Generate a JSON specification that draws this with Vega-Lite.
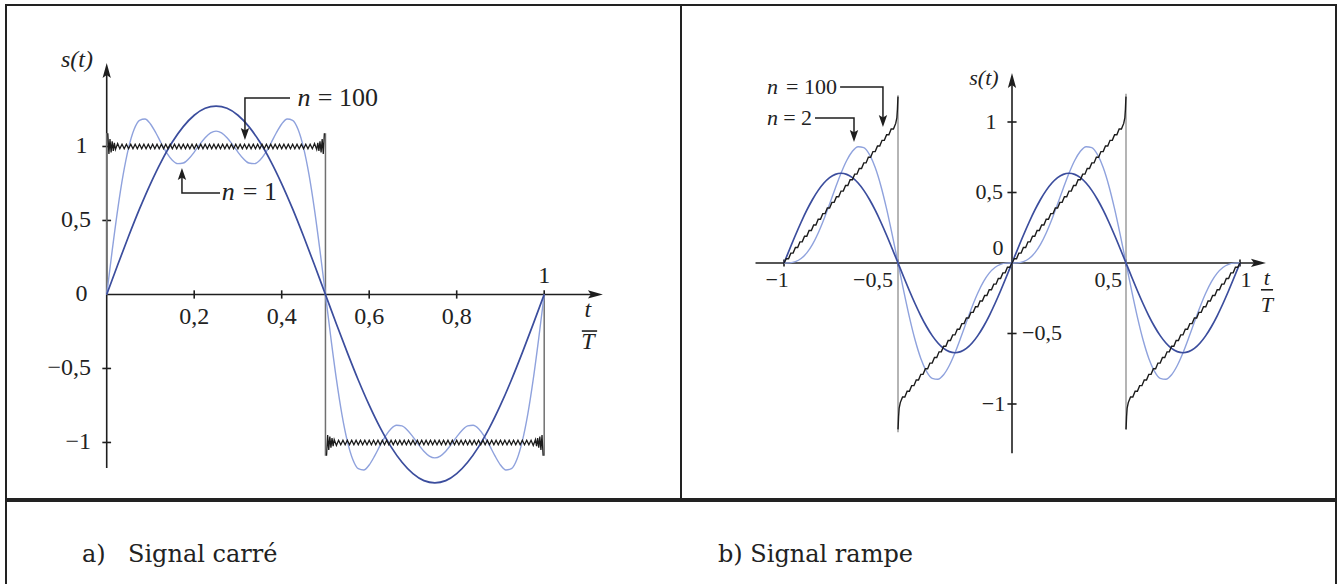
{
  "$schema": "https://vega.github.io/schema/vega-lite/v6.json",
  "background": "white",
  "padding": {"left": 5, "top": 4, "right": 0, "bottom": 0},
  "config": {
    "view": {"stroke": "#222222", "strokeWidth": 2},
    "text": {"font": "Liberation Serif", "color": "#222222"}
  },
  "datasets": {
    "sq1": [
      {"t":0,"s":0},{"t":0.025,"s":0.199},{"t":0.05,"s":0.393},{"t":0.075,"s":0.578},{"t":0.1,"s":0.748},{"t":0.125,"s":0.9},{"t":0.15,"s":1.03},{"t":0.175,"s":1.134},{"t":0.2,"s":1.211},{"t":0.225,"s":1.258},{"t":0.25,"s":1.273},{"t":0.275,"s":1.258},{"t":0.3,"s":1.211},{"t":0.325,"s":1.134},{"t":0.35,"s":1.03},{"t":0.375,"s":0.9},{"t":0.4,"s":0.748},{"t":0.425,"s":0.578},{"t":0.45,"s":0.393},{"t":0.475,"s":0.199},{"t":0.5,"s":0},
      {"t":0.525,"s":-0.199},{"t":0.55,"s":-0.393},{"t":0.575,"s":-0.578},{"t":0.6,"s":-0.748},{"t":0.625,"s":-0.9},{"t":0.65,"s":-1.03},{"t":0.675,"s":-1.134},{"t":0.7,"s":-1.211},{"t":0.725,"s":-1.258},{"t":0.75,"s":-1.273},{"t":0.775,"s":-1.258},{"t":0.8,"s":-1.211},{"t":0.825,"s":-1.134},{"t":0.85,"s":-1.03},{"t":0.875,"s":-0.9},{"t":0.9,"s":-0.748},{"t":0.925,"s":-0.578},{"t":0.95,"s":-0.393},{"t":0.975,"s":-0.199},{"t":1,"s":0}
    ],
    "sq3": [
      {"t":0,"s":0},{"t":0.0125,"s":0.296},{"t":0.025,"s":0.572},{"t":0.0375,"s":0.808},{"t":0.05,"s":0.991},{"t":0.0625,"s":1.115},{"t":0.075,"s":1.177},{"t":0.0875,"s":1.186},{"t":0.1,"s":1.152},{"t":0.1125,"s":1.091},{"t":0.125,"s":1.02},{"t":0.1375,"s":0.955},{"t":0.15,"s":0.907},{"t":0.1625,"s":0.884},{"t":0.175,"s":0.888},{"t":0.1875,"s":0.917},{"t":0.2,"s":0.962},{"t":0.2125,"s":1.013},{"t":0.225,"s":1.059},{"t":0.2375,"s":1.092},{"t":0.25,"s":1.104},
      {"t":0.2625,"s":1.092},{"t":0.275,"s":1.059},{"t":0.2875,"s":1.013},{"t":0.3,"s":0.962},{"t":0.3125,"s":0.917},{"t":0.325,"s":0.888},{"t":0.3375,"s":0.884},{"t":0.35,"s":0.907},{"t":0.3625,"s":0.955},{"t":0.375,"s":1.02},{"t":0.3875,"s":1.091},{"t":0.4,"s":1.152},{"t":0.4125,"s":1.186},{"t":0.425,"s":1.177},{"t":0.4375,"s":1.115},{"t":0.45,"s":0.991},{"t":0.4625,"s":0.808},{"t":0.475,"s":0.572},{"t":0.4875,"s":0.296},{"t":0.5,"s":0},
      {"t":0.5125,"s":-0.296},{"t":0.525,"s":-0.572},{"t":0.5375,"s":-0.808},{"t":0.55,"s":-0.991},{"t":0.5625,"s":-1.115},{"t":0.575,"s":-1.177},{"t":0.5875,"s":-1.186},{"t":0.6,"s":-1.152},{"t":0.6125,"s":-1.091},{"t":0.625,"s":-1.02},{"t":0.6375,"s":-0.955},{"t":0.65,"s":-0.907},{"t":0.6625,"s":-0.884},{"t":0.675,"s":-0.888},{"t":0.6875,"s":-0.917},{"t":0.7,"s":-0.962},{"t":0.7125,"s":-1.013},{"t":0.725,"s":-1.059},{"t":0.7375,"s":-1.092},{"t":0.75,"s":-1.104},
      {"t":0.7625,"s":-1.092},{"t":0.775,"s":-1.059},{"t":0.7875,"s":-1.013},{"t":0.8,"s":-0.962},{"t":0.8125,"s":-0.917},{"t":0.825,"s":-0.888},{"t":0.8375,"s":-0.884},{"t":0.85,"s":-0.907},{"t":0.8625,"s":-0.955},{"t":0.875,"s":-1.02},{"t":0.8875,"s":-1.091},{"t":0.9,"s":-1.152},{"t":0.9125,"s":-1.186},{"t":0.925,"s":-1.177},{"t":0.9375,"s":-1.115},{"t":0.95,"s":-0.991},{"t":0.9625,"s":-0.808},{"t":0.975,"s":-0.572},{"t":0.9875,"s":-0.296},{"t":1,"s":0}
    ],
    "sq100": [
      {"g":"a","t":0.0025,"s":1.09},{"g":"a","t":0.005,"s":0.95},{"g":"a","t":0.0075,"s":1.05},{"g":"a","t":0.01,"s":0.96},{"g":"a","t":0.0125,"s":1.035},{"g":"a","t":0.015,"s":0.97},{"g":"a","t":0.0175,"s":1.025},{"g":"a","t":0.02,"s":0.98},{"g":"a","t":0.025,"s":1.02},
      {"g":"a","t":0.03,"s":0.985},{"g":"a","t":0.035,"s":1.015},{"g":"a","t":0.04,"s":0.985},{"g":"a","t":0.045,"s":1.015},{"g":"a","t":0.05,"s":0.985},{"g":"a","t":0.055,"s":1.015},{"g":"a","t":0.06,"s":0.985},{"g":"a","t":0.065,"s":1.015},{"g":"a","t":0.07,"s":0.985},{"g":"a","t":0.075,"s":1.015},{"g":"a","t":0.08,"s":0.985},{"g":"a","t":0.085,"s":1.015},{"g":"a","t":0.09,"s":0.985},{"g":"a","t":0.095,"s":1.015},{"g":"a","t":0.1,"s":0.985},{"g":"a","t":0.105,"s":1.015},{"g":"a","t":0.11,"s":0.985},{"g":"a","t":0.115,"s":1.015},{"g":"a","t":0.12,"s":0.985},{"g":"a","t":0.125,"s":1.015},{"g":"a","t":0.13,"s":0.985},{"g":"a","t":0.135,"s":1.015},{"g":"a","t":0.14,"s":0.985},{"g":"a","t":0.145,"s":1.015},{"g":"a","t":0.15,"s":0.985},{"g":"a","t":0.155,"s":1.015},{"g":"a","t":0.16,"s":0.985},{"g":"a","t":0.165,"s":1.015},{"g":"a","t":0.17,"s":0.985},{"g":"a","t":0.175,"s":1.015},{"g":"a","t":0.18,"s":0.985},{"g":"a","t":0.185,"s":1.015},{"g":"a","t":0.19,"s":0.985},{"g":"a","t":0.195,"s":1.015},{"g":"a","t":0.2,"s":0.985},{"g":"a","t":0.205,"s":1.015},{"g":"a","t":0.21,"s":0.985},{"g":"a","t":0.215,"s":1.015},{"g":"a","t":0.22,"s":0.985},{"g":"a","t":0.225,"s":1.015},{"g":"a","t":0.23,"s":0.985},{"g":"a","t":0.235,"s":1.015},{"g":"a","t":0.24,"s":0.985},{"g":"a","t":0.245,"s":1.015},{"g":"a","t":0.25,"s":0.985},{"g":"a","t":0.255,"s":1.015},{"g":"a","t":0.26,"s":0.985},{"g":"a","t":0.265,"s":1.015},{"g":"a","t":0.27,"s":0.985},{"g":"a","t":0.275,"s":1.015},{"g":"a","t":0.28,"s":0.985},{"g":"a","t":0.285,"s":1.015},{"g":"a","t":0.29,"s":0.985},{"g":"a","t":0.295,"s":1.015},{"g":"a","t":0.3,"s":0.985},{"g":"a","t":0.305,"s":1.015},{"g":"a","t":0.31,"s":0.985},{"g":"a","t":0.315,"s":1.015},{"g":"a","t":0.32,"s":0.985},{"g":"a","t":0.325,"s":1.015},{"g":"a","t":0.33,"s":0.985},{"g":"a","t":0.335,"s":1.015},{"g":"a","t":0.34,"s":0.985},{"g":"a","t":0.345,"s":1.015},{"g":"a","t":0.35,"s":0.985},{"g":"a","t":0.355,"s":1.015},{"g":"a","t":0.36,"s":0.985},{"g":"a","t":0.365,"s":1.015},{"g":"a","t":0.37,"s":0.985},{"g":"a","t":0.375,"s":1.015},{"g":"a","t":0.38,"s":0.985},{"g":"a","t":0.385,"s":1.015},{"g":"a","t":0.39,"s":0.985},{"g":"a","t":0.395,"s":1.015},{"g":"a","t":0.4,"s":0.985},{"g":"a","t":0.405,"s":1.015},{"g":"a","t":0.41,"s":0.985},{"g":"a","t":0.415,"s":1.015},{"g":"a","t":0.42,"s":0.985},{"g":"a","t":0.425,"s":1.015},{"g":"a","t":0.43,"s":0.985},{"g":"a","t":0.435,"s":1.015},{"g":"a","t":0.44,"s":0.985},{"g":"a","t":0.445,"s":1.015},{"g":"a","t":0.45,"s":0.985},{"g":"a","t":0.455,"s":1.015},{"g":"a","t":0.46,"s":0.985},{"g":"a","t":0.465,"s":1.015},{"g":"a","t":0.47,"s":0.985},
      {"g":"a","t":0.475,"s":1.02},{"g":"a","t":0.48,"s":0.98},{"g":"a","t":0.4825,"s":1.025},{"g":"a","t":0.485,"s":0.97},{"g":"a","t":0.4875,"s":1.035},{"g":"a","t":0.49,"s":0.96},{"g":"a","t":0.4925,"s":1.05},{"g":"a","t":0.495,"s":0.95},{"g":"a","t":0.4975,"s":1.09},
      {"g":"b","t":0.5025,"s":-1.09},{"g":"b","t":0.505,"s":-0.95},{"g":"b","t":0.5075,"s":-1.05},{"g":"b","t":0.51,"s":-0.96},{"g":"b","t":0.5125,"s":-1.035},{"g":"b","t":0.515,"s":-0.97},{"g":"b","t":0.5175,"s":-1.025},{"g":"b","t":0.52,"s":-0.98},{"g":"b","t":0.525,"s":-1.02},
      {"g":"b","t":0.53,"s":-0.985},{"g":"b","t":0.535,"s":-1.015},{"g":"b","t":0.54,"s":-0.985},{"g":"b","t":0.545,"s":-1.015},{"g":"b","t":0.55,"s":-0.985},{"g":"b","t":0.555,"s":-1.015},{"g":"b","t":0.56,"s":-0.985},{"g":"b","t":0.565,"s":-1.015},{"g":"b","t":0.57,"s":-0.985},{"g":"b","t":0.575,"s":-1.015},{"g":"b","t":0.58,"s":-0.985},{"g":"b","t":0.585,"s":-1.015},{"g":"b","t":0.59,"s":-0.985},{"g":"b","t":0.595,"s":-1.015},{"g":"b","t":0.6,"s":-0.985},{"g":"b","t":0.605,"s":-1.015},{"g":"b","t":0.61,"s":-0.985},{"g":"b","t":0.615,"s":-1.015},{"g":"b","t":0.62,"s":-0.985},{"g":"b","t":0.625,"s":-1.015},{"g":"b","t":0.63,"s":-0.985},{"g":"b","t":0.635,"s":-1.015},{"g":"b","t":0.64,"s":-0.985},{"g":"b","t":0.645,"s":-1.015},{"g":"b","t":0.65,"s":-0.985},{"g":"b","t":0.655,"s":-1.015},{"g":"b","t":0.66,"s":-0.985},{"g":"b","t":0.665,"s":-1.015},{"g":"b","t":0.67,"s":-0.985},{"g":"b","t":0.675,"s":-1.015},{"g":"b","t":0.68,"s":-0.985},{"g":"b","t":0.685,"s":-1.015},{"g":"b","t":0.69,"s":-0.985},{"g":"b","t":0.695,"s":-1.015},{"g":"b","t":0.7,"s":-0.985},{"g":"b","t":0.705,"s":-1.015},{"g":"b","t":0.71,"s":-0.985},{"g":"b","t":0.715,"s":-1.015},{"g":"b","t":0.72,"s":-0.985},{"g":"b","t":0.725,"s":-1.015},{"g":"b","t":0.73,"s":-0.985},{"g":"b","t":0.735,"s":-1.015},{"g":"b","t":0.74,"s":-0.985},{"g":"b","t":0.745,"s":-1.015},{"g":"b","t":0.75,"s":-0.985},{"g":"b","t":0.755,"s":-1.015},{"g":"b","t":0.76,"s":-0.985},{"g":"b","t":0.765,"s":-1.015},{"g":"b","t":0.77,"s":-0.985},{"g":"b","t":0.775,"s":-1.015},{"g":"b","t":0.78,"s":-0.985},{"g":"b","t":0.785,"s":-1.015},{"g":"b","t":0.79,"s":-0.985},{"g":"b","t":0.795,"s":-1.015},{"g":"b","t":0.8,"s":-0.985},{"g":"b","t":0.805,"s":-1.015},{"g":"b","t":0.81,"s":-0.985},{"g":"b","t":0.815,"s":-1.015},{"g":"b","t":0.82,"s":-0.985},{"g":"b","t":0.825,"s":-1.015},{"g":"b","t":0.83,"s":-0.985},{"g":"b","t":0.835,"s":-1.015},{"g":"b","t":0.84,"s":-0.985},{"g":"b","t":0.845,"s":-1.015},{"g":"b","t":0.85,"s":-0.985},{"g":"b","t":0.855,"s":-1.015},{"g":"b","t":0.86,"s":-0.985},{"g":"b","t":0.865,"s":-1.015},{"g":"b","t":0.87,"s":-0.985},{"g":"b","t":0.875,"s":-1.015},{"g":"b","t":0.88,"s":-0.985},{"g":"b","t":0.885,"s":-1.015},{"g":"b","t":0.89,"s":-0.985},{"g":"b","t":0.895,"s":-1.015},{"g":"b","t":0.9,"s":-0.985},{"g":"b","t":0.905,"s":-1.015},{"g":"b","t":0.91,"s":-0.985},{"g":"b","t":0.915,"s":-1.015},{"g":"b","t":0.92,"s":-0.985},{"g":"b","t":0.925,"s":-1.015},{"g":"b","t":0.93,"s":-0.985},{"g":"b","t":0.935,"s":-1.015},{"g":"b","t":0.94,"s":-0.985},{"g":"b","t":0.945,"s":-1.015},{"g":"b","t":0.95,"s":-0.985},{"g":"b","t":0.955,"s":-1.015},{"g":"b","t":0.96,"s":-0.985},{"g":"b","t":0.965,"s":-1.015},{"g":"b","t":0.97,"s":-0.985},
      {"g":"b","t":0.975,"s":-1.02},{"g":"b","t":0.98,"s":-0.98},{"g":"b","t":0.9825,"s":-1.025},{"g":"b","t":0.985,"s":-0.97},{"g":"b","t":0.9875,"s":-1.035},{"g":"b","t":0.99,"s":-0.96},{"g":"b","t":0.9925,"s":-1.05},{"g":"b","t":0.995,"s":-0.95},{"g":"b","t":0.9975,"s":-1.09}
    ],
    "sqJumps": [
      {"t":0,"s":0,"s2":1.09},{"t":0.5,"s":1.09,"s2":-1.09},{"t":1,"s":-1.09,"s2":0}
    ],
    "sqAxes": [
      {"t":0,"s":0,"t2":1.12,"s2":0},
      {"t":0,"s":-1.172,"t2":0,"s2":1.52},
      {"t":0.2,"s":-0.028,"t2":0.2,"s2":0.028},{"t":0.4,"s":-0.028,"t2":0.4,"s2":0.028},{"t":0.6,"s":-0.028,"t2":0.6,"s2":0.028},{"t":0.8,"s":-0.028,"t2":0.8,"s2":0.028},{"t":1,"s":-0.028,"t2":1,"s2":0.028},
      {"t":-0.01,"s":1,"t2":0.01,"s2":1},{"t":-0.01,"s":0.5,"t2":0.01,"s2":0.5},{"t":-0.01,"s":-0.5,"t2":0.01,"s2":-0.5},{"t":-0.01,"s":-1,"t2":0.01,"s2":-1},
      {"t":1.086,"s":-0.247,"t2":1.121,"s2":-0.247}
    ],
    "sqLeaders": [
      {"g":"a","o":0,"t":0.419,"s":1.328},{"g":"a","o":1,"t":0.316,"s":1.328},{"g":"a","o":2,"t":0.316,"s":1.1},
      {"g":"b","o":0,"t":0.259,"s":0.686},{"g":"b","o":1,"t":0.172,"s":0.686},{"g":"b","o":2,"t":0.172,"s":0.8}
    ],
    "sqHeads": [
      {"k":"ar","t":1.117,"s":0},{"k":"au","t":0,"s":1.513},{"k":"nd","t":0.316,"s":1.085},{"k":"nu","t":0.172,"s":0.814}
    ],
    "sqText": [
      {"k":"c","t":-0.0576,"s":1,"label":"1"},{"k":"c","t":-0.0576,"s":0,"label":"0"},
      {"k":"c","t":0.2,"s":-0.152,"label":"0,2"},{"k":"c","t":0.4,"s":-0.152,"label":"0,4"},{"k":"c","t":0.6,"s":-0.152,"label":"0,6"},{"k":"c","t":0.8,"s":-0.152,"label":"0,8"},{"k":"c","t":1,"s":0.125,"label":"1"},
      {"k":"r","t":-0.036,"s":0.5,"label":"0,5"},{"k":"r","t":-0.036,"s":-0.5,"label":"−0,5"},{"k":"r","t":-0.036,"s":-1,"label":"−1"},
      {"k":"ra","t":0.62,"s":1.328,"label":"= 100"},{"k":"ra","t":0.389,"s":0.693,"label":"= 1"},
      {"k":"ci","t":-0.068,"s":1.584,"label":"s(t)"},{"k":"ci","t":1.1,"s":-0.105,"label":"t"},{"k":"ci","t":1.1,"s":-0.321,"label":"T"},
      {"k":"li","t":0.436,"s":1.328,"label":"n"},{"k":"li","t":0.263,"s":0.693,"label":"n"}
    ],
    "rp1": [
      {"t":-1,"s":0},{"t":-0.975,"s":0.0996},{"t":-0.95,"s":0.1967},{"t":-0.925,"s":0.289},{"t":-0.9,"s":0.3742},{"t":-0.875,"s":0.4502},{"t":-0.85,"s":0.515},{"t":-0.825,"s":0.5672},{"t":-0.8,"s":0.6055},{"t":-0.775,"s":0.6288},{"t":-0.75,"s":0.6366},{"t":-0.725,"s":0.6288},{"t":-0.7,"s":0.6055},{"t":-0.675,"s":0.5672},{"t":-0.65,"s":0.515},{"t":-0.625,"s":0.4502},{"t":-0.6,"s":0.3742},{"t":-0.575,"s":0.289},{"t":-0.55,"s":0.1967},{"t":-0.525,"s":0.0996},{"t":-0.5,"s":0},
      {"t":-0.475,"s":-0.0996},{"t":-0.45,"s":-0.1967},{"t":-0.425,"s":-0.289},{"t":-0.4,"s":-0.3742},{"t":-0.375,"s":-0.4502},{"t":-0.35,"s":-0.515},{"t":-0.325,"s":-0.5672},{"t":-0.3,"s":-0.6055},{"t":-0.275,"s":-0.6288},{"t":-0.25,"s":-0.6366},{"t":-0.225,"s":-0.6288},{"t":-0.2,"s":-0.6055},{"t":-0.175,"s":-0.5672},{"t":-0.15,"s":-0.515},{"t":-0.125,"s":-0.4502},{"t":-0.1,"s":-0.3742},{"t":-0.075,"s":-0.289},{"t":-0.05,"s":-0.1967},{"t":-0.025,"s":-0.0996},{"t":0,"s":0},
      {"t":0.025,"s":0.0996},{"t":0.05,"s":0.1967},{"t":0.075,"s":0.289},{"t":0.1,"s":0.3742},{"t":0.125,"s":0.4502},{"t":0.15,"s":0.515},{"t":0.175,"s":0.5672},{"t":0.2,"s":0.6055},{"t":0.225,"s":0.6288},{"t":0.25,"s":0.6366},{"t":0.275,"s":0.6288},{"t":0.3,"s":0.6055},{"t":0.325,"s":0.5672},{"t":0.35,"s":0.515},{"t":0.375,"s":0.4502},{"t":0.4,"s":0.3742},{"t":0.425,"s":0.289},{"t":0.45,"s":0.1967},{"t":0.475,"s":0.0996},{"t":0.5,"s":0},
      {"t":0.525,"s":-0.0996},{"t":0.55,"s":-0.1967},{"t":0.575,"s":-0.289},{"t":0.6,"s":-0.3742},{"t":0.625,"s":-0.4502},{"t":0.65,"s":-0.515},{"t":0.675,"s":-0.5672},{"t":0.7,"s":-0.6055},{"t":0.725,"s":-0.6288},{"t":0.75,"s":-0.6366},{"t":0.775,"s":-0.6288},{"t":0.8,"s":-0.6055},{"t":0.825,"s":-0.5672},{"t":0.85,"s":-0.515},{"t":0.875,"s":-0.4502},{"t":0.9,"s":-0.3742},{"t":0.925,"s":-0.289},{"t":0.95,"s":-0.1967},{"t":0.975,"s":-0.0996},{"t":1,"s":0}
    ],
    "rp2": [
      {"t":-1,"s":0},{"t":-0.975,"s":0.0012},{"t":-0.95,"s":0.0096},{"t":-0.925,"s":0.0315},{"t":-0.9,"s":0.0715},{"t":-0.875,"s":0.1318},{"t":-0.85,"s":0.2123},{"t":-0.825,"s":0.3097},{"t":-0.8,"s":0.4184},{"t":-0.775,"s":0.5304},{"t":-0.75,"s":0.6366},{"t":-0.725,"s":0.7271},{"t":-0.7,"s":0.7926},{"t":-0.675,"s":0.8247},{"t":-0.65,"s":0.8177},{"t":-0.625,"s":0.7684},{"t":-0.6,"s":0.6769},{"t":-0.575,"s":0.5465},{"t":-0.55,"s":0.3838},{"t":-0.525,"s":0.1979},{"t":-0.5,"s":0},
      {"t":-0.475,"s":-0.1979},{"t":-0.45,"s":-0.3838},{"t":-0.425,"s":-0.5465},{"t":-0.4,"s":-0.6769},{"t":-0.375,"s":-0.7684},{"t":-0.35,"s":-0.8177},{"t":-0.325,"s":-0.8247},{"t":-0.3,"s":-0.7926},{"t":-0.275,"s":-0.7271},{"t":-0.25,"s":-0.6366},{"t":-0.225,"s":-0.5304},{"t":-0.2,"s":-0.4184},{"t":-0.175,"s":-0.3097},{"t":-0.15,"s":-0.2123},{"t":-0.125,"s":-0.1318},{"t":-0.1,"s":-0.0715},{"t":-0.075,"s":-0.0315},{"t":-0.05,"s":-0.0096},{"t":-0.025,"s":-0.0012},{"t":0,"s":0},
      {"t":0.025,"s":0.0012},{"t":0.05,"s":0.0096},{"t":0.075,"s":0.0315},{"t":0.1,"s":0.0715},{"t":0.125,"s":0.1318},{"t":0.15,"s":0.2123},{"t":0.175,"s":0.3097},{"t":0.2,"s":0.4184},{"t":0.225,"s":0.5304},{"t":0.25,"s":0.6366},{"t":0.275,"s":0.7271},{"t":0.3,"s":0.7926},{"t":0.325,"s":0.8247},{"t":0.35,"s":0.8177},{"t":0.375,"s":0.7684},{"t":0.4,"s":0.6769},{"t":0.425,"s":0.5465},{"t":0.45,"s":0.3838},{"t":0.475,"s":0.1979},{"t":0.5,"s":0},
      {"t":0.525,"s":-0.1979},{"t":0.55,"s":-0.3838},{"t":0.575,"s":-0.5465},{"t":0.6,"s":-0.6769},{"t":0.625,"s":-0.7684},{"t":0.65,"s":-0.8177},{"t":0.675,"s":-0.8247},{"t":0.7,"s":-0.7926},{"t":0.725,"s":-0.7271},{"t":0.75,"s":-0.6366},{"t":0.775,"s":-0.5304},{"t":0.8,"s":-0.4184},{"t":0.825,"s":-0.3097},{"t":0.85,"s":-0.2123},{"t":0.875,"s":-0.1318},{"t":0.9,"s":-0.0715},{"t":0.925,"s":-0.0315},{"t":0.95,"s":-0.0096},{"t":0.975,"s":-0.0012},{"t":1,"s":0}
    ],
    "rp100": [
      {"g":"a","t":-1,"s":0},{"g":"a","t":-0.99,"s":0.03},{"g":"a","t":-0.98,"s":0.03},{"g":"a","t":-0.97,"s":0.07},{"g":"a","t":-0.96,"s":0.07},{"g":"a","t":-0.95,"s":0.11},{"g":"a","t":-0.94,"s":0.11},{"g":"a","t":-0.93,"s":0.15},{"g":"a","t":-0.92,"s":0.15},{"g":"a","t":-0.91,"s":0.19},{"g":"a","t":-0.9,"s":0.19},{"g":"a","t":-0.89,"s":0.23},{"g":"a","t":-0.88,"s":0.23},{"g":"a","t":-0.87,"s":0.27},{"g":"a","t":-0.86,"s":0.27},{"g":"a","t":-0.85,"s":0.31},{"g":"a","t":-0.84,"s":0.31},{"g":"a","t":-0.83,"s":0.35},{"g":"a","t":-0.82,"s":0.35},{"g":"a","t":-0.81,"s":0.39},{"g":"a","t":-0.8,"s":0.39},{"g":"a","t":-0.79,"s":0.43},{"g":"a","t":-0.78,"s":0.43},{"g":"a","t":-0.77,"s":0.47},{"g":"a","t":-0.76,"s":0.47},{"g":"a","t":-0.75,"s":0.51},{"g":"a","t":-0.74,"s":0.51},{"g":"a","t":-0.73,"s":0.55},{"g":"a","t":-0.72,"s":0.55},{"g":"a","t":-0.71,"s":0.59},{"g":"a","t":-0.7,"s":0.59},{"g":"a","t":-0.69,"s":0.63},{"g":"a","t":-0.68,"s":0.63},{"g":"a","t":-0.67,"s":0.67},{"g":"a","t":-0.66,"s":0.67},{"g":"a","t":-0.65,"s":0.71},{"g":"a","t":-0.64,"s":0.71},{"g":"a","t":-0.63,"s":0.75},{"g":"a","t":-0.62,"s":0.75},{"g":"a","t":-0.61,"s":0.79},{"g":"a","t":-0.6,"s":0.79},{"g":"a","t":-0.59,"s":0.83},{"g":"a","t":-0.58,"s":0.83},{"g":"a","t":-0.57,"s":0.87},{"g":"a","t":-0.56,"s":0.87},{"g":"a","t":-0.55,"s":0.91},{"g":"a","t":-0.54,"s":0.91},{"g":"a","t":-0.53,"s":0.95},{"g":"a","t":-0.52,"s":0.95},{"g":"a","t":-0.51,"s":0.99},{"g":"a","t":-0.505,"s":1.03},{"g":"a","t":-0.5025,"s":1.09},{"g":"a","t":-0.501,"s":1.15},{"g":"a","t":-0.5,"s":1.18},
      {"g":"b","t":-0.5,"s":-1.18},{"g":"b","t":-0.499,"s":-1.15},{"g":"b","t":-0.4975,"s":-1.09},{"g":"b","t":-0.495,"s":-1.03},{"g":"b","t":-0.49,"s":-0.99},{"g":"b","t":-0.48,"s":-0.95},{"g":"b","t":-0.47,"s":-0.95},{"g":"b","t":-0.46,"s":-0.91},{"g":"b","t":-0.45,"s":-0.91},{"g":"b","t":-0.44,"s":-0.87},{"g":"b","t":-0.43,"s":-0.87},{"g":"b","t":-0.42,"s":-0.83},{"g":"b","t":-0.41,"s":-0.83},{"g":"b","t":-0.4,"s":-0.79},{"g":"b","t":-0.39,"s":-0.79},{"g":"b","t":-0.38,"s":-0.75},{"g":"b","t":-0.37,"s":-0.75},{"g":"b","t":-0.36,"s":-0.71},{"g":"b","t":-0.35,"s":-0.71},{"g":"b","t":-0.34,"s":-0.67},{"g":"b","t":-0.33,"s":-0.67},{"g":"b","t":-0.32,"s":-0.63},{"g":"b","t":-0.31,"s":-0.63},{"g":"b","t":-0.3,"s":-0.59},{"g":"b","t":-0.29,"s":-0.59},{"g":"b","t":-0.28,"s":-0.55},{"g":"b","t":-0.27,"s":-0.55},{"g":"b","t":-0.26,"s":-0.51},{"g":"b","t":-0.25,"s":-0.51},{"g":"b","t":-0.24,"s":-0.47},{"g":"b","t":-0.23,"s":-0.47},{"g":"b","t":-0.22,"s":-0.43},{"g":"b","t":-0.21,"s":-0.43},{"g":"b","t":-0.2,"s":-0.39},{"g":"b","t":-0.19,"s":-0.39},{"g":"b","t":-0.18,"s":-0.35},{"g":"b","t":-0.17,"s":-0.35},{"g":"b","t":-0.16,"s":-0.31},{"g":"b","t":-0.15,"s":-0.31},{"g":"b","t":-0.14,"s":-0.27},{"g":"b","t":-0.13,"s":-0.27},{"g":"b","t":-0.12,"s":-0.23},{"g":"b","t":-0.11,"s":-0.23},{"g":"b","t":-0.1,"s":-0.19},{"g":"b","t":-0.09,"s":-0.19},{"g":"b","t":-0.08,"s":-0.15},{"g":"b","t":-0.07,"s":-0.15},{"g":"b","t":-0.06,"s":-0.11},{"g":"b","t":-0.05,"s":-0.11},{"g":"b","t":-0.04,"s":-0.07},{"g":"b","t":-0.03,"s":-0.07},{"g":"b","t":-0.02,"s":-0.03},{"g":"b","t":-0.01,"s":-0.03},{"g":"b","t":0,"s":0},
      {"g":"b","t":0.01,"s":0.03},{"g":"b","t":0.02,"s":0.03},{"g":"b","t":0.03,"s":0.07},{"g":"b","t":0.04,"s":0.07},{"g":"b","t":0.05,"s":0.11},{"g":"b","t":0.06,"s":0.11},{"g":"b","t":0.07,"s":0.15},{"g":"b","t":0.08,"s":0.15},{"g":"b","t":0.09,"s":0.19},{"g":"b","t":0.1,"s":0.19},{"g":"b","t":0.11,"s":0.23},{"g":"b","t":0.12,"s":0.23},{"g":"b","t":0.13,"s":0.27},{"g":"b","t":0.14,"s":0.27},{"g":"b","t":0.15,"s":0.31},{"g":"b","t":0.16,"s":0.31},{"g":"b","t":0.17,"s":0.35},{"g":"b","t":0.18,"s":0.35},{"g":"b","t":0.19,"s":0.39},{"g":"b","t":0.2,"s":0.39},{"g":"b","t":0.21,"s":0.43},{"g":"b","t":0.22,"s":0.43},{"g":"b","t":0.23,"s":0.47},{"g":"b","t":0.24,"s":0.47},{"g":"b","t":0.25,"s":0.51},{"g":"b","t":0.26,"s":0.51},{"g":"b","t":0.27,"s":0.55},{"g":"b","t":0.28,"s":0.55},{"g":"b","t":0.29,"s":0.59},{"g":"b","t":0.3,"s":0.59},{"g":"b","t":0.31,"s":0.63},{"g":"b","t":0.32,"s":0.63},{"g":"b","t":0.33,"s":0.67},{"g":"b","t":0.34,"s":0.67},{"g":"b","t":0.35,"s":0.71},{"g":"b","t":0.36,"s":0.71},{"g":"b","t":0.37,"s":0.75},{"g":"b","t":0.38,"s":0.75},{"g":"b","t":0.39,"s":0.79},{"g":"b","t":0.4,"s":0.79},{"g":"b","t":0.41,"s":0.83},{"g":"b","t":0.42,"s":0.83},{"g":"b","t":0.43,"s":0.87},{"g":"b","t":0.44,"s":0.87},{"g":"b","t":0.45,"s":0.91},{"g":"b","t":0.46,"s":0.91},{"g":"b","t":0.47,"s":0.95},{"g":"b","t":0.48,"s":0.95},{"g":"b","t":0.49,"s":0.99},{"g":"b","t":0.495,"s":1.03},{"g":"b","t":0.4975,"s":1.09},{"g":"b","t":0.499,"s":1.15},{"g":"b","t":0.5,"s":1.18},
      {"g":"c","t":0.5,"s":-1.18},{"g":"c","t":0.501,"s":-1.15},{"g":"c","t":0.5025,"s":-1.09},{"g":"c","t":0.505,"s":-1.03},{"g":"c","t":0.51,"s":-0.99},{"g":"c","t":0.52,"s":-0.95},{"g":"c","t":0.53,"s":-0.95},{"g":"c","t":0.54,"s":-0.91},{"g":"c","t":0.55,"s":-0.91},{"g":"c","t":0.56,"s":-0.87},{"g":"c","t":0.57,"s":-0.87},{"g":"c","t":0.58,"s":-0.83},{"g":"c","t":0.59,"s":-0.83},{"g":"c","t":0.6,"s":-0.79},{"g":"c","t":0.61,"s":-0.79},{"g":"c","t":0.62,"s":-0.75},{"g":"c","t":0.63,"s":-0.75},{"g":"c","t":0.64,"s":-0.71},{"g":"c","t":0.65,"s":-0.71},{"g":"c","t":0.66,"s":-0.67},{"g":"c","t":0.67,"s":-0.67},{"g":"c","t":0.68,"s":-0.63},{"g":"c","t":0.69,"s":-0.63},{"g":"c","t":0.7,"s":-0.59},{"g":"c","t":0.71,"s":-0.59},{"g":"c","t":0.72,"s":-0.55},{"g":"c","t":0.73,"s":-0.55},{"g":"c","t":0.74,"s":-0.51},{"g":"c","t":0.75,"s":-0.51},{"g":"c","t":0.76,"s":-0.47},{"g":"c","t":0.77,"s":-0.47},{"g":"c","t":0.78,"s":-0.43},{"g":"c","t":0.79,"s":-0.43},{"g":"c","t":0.8,"s":-0.39},{"g":"c","t":0.81,"s":-0.39},{"g":"c","t":0.82,"s":-0.35},{"g":"c","t":0.83,"s":-0.35},{"g":"c","t":0.84,"s":-0.31},{"g":"c","t":0.85,"s":-0.31},{"g":"c","t":0.86,"s":-0.27},{"g":"c","t":0.87,"s":-0.27},{"g":"c","t":0.88,"s":-0.23},{"g":"c","t":0.89,"s":-0.23},{"g":"c","t":0.9,"s":-0.19},{"g":"c","t":0.91,"s":-0.19},{"g":"c","t":0.92,"s":-0.15},{"g":"c","t":0.93,"s":-0.15},{"g":"c","t":0.94,"s":-0.11},{"g":"c","t":0.95,"s":-0.11},{"g":"c","t":0.96,"s":-0.07},{"g":"c","t":0.97,"s":-0.07},{"g":"c","t":0.98,"s":-0.03},{"g":"c","t":0.99,"s":-0.03},{"g":"c","t":1,"s":0}
    ],
    "rpJumps": [
      {"t":-0.5,"s":1.19,"s2":-1.2},{"t":0.5,"s":1.2,"s2":-1.18}
    ],
    "rpAxes": [
      {"t":-1.125,"s":0,"t2":1.09,"s2":0},
      {"t":0,"s":-1.35,"t2":0,"s2":1.3},
      {"t":-1,"s":-0.025,"t2":-1,"s2":0.025},{"t":-0.5,"s":-0.025,"t2":-0.5,"s2":0.025},{"t":0.5,"s":-0.025,"t2":0.5,"s2":0.025},{"t":1,"s":-0.025,"t2":1,"s2":0.025},
      {"t":-0.02,"s":1,"t2":0.02,"s2":1},{"t":-0.02,"s":0.5,"t2":0.02,"s2":0.5},{"t":-0.02,"s":-0.5,"t2":0.02,"s2":-0.5},{"t":-0.02,"s":-1,"t2":0.02,"s2":-1},
      {"t":1.092,"s":-0.19,"t2":1.145,"s2":-0.19}
    ],
    "rpLeaders": [
      {"g":"a","o":0,"t":-0.754,"s":1.248},{"g":"a","o":1,"t":-0.566,"s":1.248},{"g":"a","o":2,"t":-0.566,"s":1.02},
      {"g":"b","o":0,"t":-0.864,"s":1.028},{"g":"b","o":1,"t":-0.693,"s":1.028},{"g":"b","o":2,"t":-0.693,"s":0.91}
    ],
    "rpHeads": [
      {"k":"ar","t":1.081,"s":0},{"k":"au","t":0,"s":1.295},{"k":"nd","t":-0.566,"s":1.007},{"k":"nd","t":-0.693,"s":0.901}
    ],
    "rpText": [
      {"k":"c","t":-0.092,"s":1,"label":"1"},{"k":"c","t":-0.061,"s":0.106,"label":"0"},{"k":"c","t":-1.03,"s":-0.12,"label":"−1"},{"k":"c","t":1.026,"s":-0.12,"label":"1"},
      {"k":"r","t":-0.039,"s":0.5,"label":"0,5"},{"k":"r","t":-0.03,"s":-1,"label":"−1"},{"k":"r","t":-0.522,"s":-0.12,"label":"−0,5"},{"k":"r","t":0.482,"s":-0.12,"label":"0,5"},
      {"k":"r","t":-0.768,"s":1.248,"label":"= 100"},{"k":"r","t":-0.877,"s":1.028,"label":"= 2"},
      {"k":"l","t":0.044,"s":-0.5,"label":"−0,5"},
      {"k":"ci","t":-0.123,"s":1.312,"label":"s(t)"},{"k":"ci","t":1.118,"s":-0.106,"label":"t"},{"k":"ci","t":1.118,"s":-0.298,"label":"T"},
      {"k":"li","t":-1.075,"s":1.248,"label":"n"},{"k":"li","t":-1.075,"s":1.028,"label":"n"}
    ],
    "captions": [
      {"x":0.0571,"y":0.4,"label":"a)"},
      {"x":0.0917,"y":0.4,"label":"Signal carré"},
      {"x":0.5353,"y":0.4,"label":"b) Signal rampe"}
    ]
  },
  "vconcat": [
    {
      "hconcat": [
        {
          "width": 675,
          "height": 494,
          "encoding": {
            "x": {"field": "t", "type": "quantitative", "scale": {"domain": [-0.2302, 1.3127], "nice": false, "zero": false}, "axis": null},
            "y": {"field": "s", "type": "quantitative", "scale": {"domain": [-1.382, 1.956], "nice": false, "zero": false}, "axis": null}
          },
          "layer": [
            {"data": {"name": "sqAxes"}, "mark": {"type": "rule", "color": "#1e1e1e", "strokeWidth": 1.6}, "encoding": {"x2": {"field": "t2"}, "y2": {"field": "s2"}}},
            {"data": {"name": "sqJumps"}, "mark": {"type": "rule", "color": "#707070", "strokeWidth": 1.5}, "encoding": {"y2": {"field": "s2"}}},
            {"data": {"name": "sq3"}, "mark": {"type": "line", "color": "#8fa2dd", "strokeWidth": 1.4, "interpolate": "monotone"}, "encoding": {}},
            {"data": {"name": "sq1"}, "mark": {"type": "line", "color": "#3b4d9d", "strokeWidth": 1.7, "interpolate": "monotone"}, "encoding": {}},
            {"data": {"name": "sq100"}, "mark": {"type": "line", "color": "#1c1c1c", "strokeWidth": 1.3}, "encoding": {"detail": {"field": "g"}}},
            {"data": {"name": "sqLeaders"}, "mark": {"type": "line", "color": "#1e1e1e", "strokeWidth": 1.5}, "encoding": {"detail": {"field": "g"}, "order": {"field": "o"}}},
            {"data": {"name": "sqHeads"}, "transform": [{"filter": "datum.k == 'au' || datum.k == 'ar'"}], "mark": {"type": "point", "filled": true, "opacity": 1, "color": "#1e1e1e", "size": 225, "strokeWidth": 0},
             "encoding": {"shape": {"field": "k", "scale": {"domain": ["au", "ar", "nd", "nu"], "range": ["M0,-1L0.55,1L0,0.6L-0.55,1Z", "M1,0L-1,0.55L-0.6,0L-1,-0.55Z", "M0,1L-0.7,-1L0,-0.6L0.7,-1Z", "M0,-1L0.7,1L0,0.6L-0.7,1Z"]}, "legend": null}}},
            {"data": {"name": "sqHeads"}, "transform": [{"filter": "datum.k == 'nd' || datum.k == 'nu'"}], "mark": {"type": "point", "filled": true, "opacity": 1, "color": "#1e1e1e", "size": 144, "strokeWidth": 0},
             "encoding": {"shape": {"field": "k", "scale": {"domain": ["au", "ar", "nd", "nu"], "range": ["M0,-1L0.55,1L0,0.6L-0.55,1Z", "M1,0L-1,0.55L-0.6,0L-1,-0.55Z", "M0,1L-0.7,-1L0,-0.6L0.7,-1Z", "M0,-1L0.7,1L0,0.6L-0.7,1Z"]}, "legend": null}}},
            {"data": {"name": "sqText"}, "transform": [{"filter": "datum.k == 'c'"}], "mark": {"type": "text", "align": "center", "baseline": "middle", "fontSize": 24}, "encoding": {"text": {"field": "label"}}},
            {"data": {"name": "sqText"}, "transform": [{"filter": "datum.k == 'r'"}], "mark": {"type": "text", "align": "right", "baseline": "middle", "fontSize": 24}, "encoding": {"text": {"field": "label"}}},
            {"data": {"name": "sqText"}, "transform": [{"filter": "datum.k == 'ra'"}], "mark": {"type": "text", "align": "right", "baseline": "middle", "fontSize": 26}, "encoding": {"text": {"field": "label"}}},
            {"data": {"name": "sqText"}, "transform": [{"filter": "datum.k == 'ci'"}], "mark": {"type": "text", "align": "center", "baseline": "middle", "fontSize": 24, "fontStyle": "italic"}, "encoding": {"text": {"field": "label"}}},
            {"data": {"name": "sqText"}, "transform": [{"filter": "datum.k == 'li'"}], "mark": {"type": "text", "align": "left", "baseline": "middle", "fontSize": 26, "fontStyle": "italic"}, "encoding": {"text": {"field": "label"}}}
          ]
        },
        {
          "width": 655,
          "height": 494,
          "encoding": {
            "x": {"field": "t", "type": "quantitative", "scale": {"domain": [-1.4518, 1.4211], "nice": false, "zero": false}, "axis": null},
            "y": {"field": "s", "type": "quantitative", "scale": {"domain": [-1.6738, 1.8298], "nice": false, "zero": false}, "axis": null}
          },
          "layer": [
            {"data": {"name": "rpAxes"}, "mark": {"type": "rule", "color": "#1e1e1e", "strokeWidth": 1.6}, "encoding": {"x2": {"field": "t2"}, "y2": {"field": "s2"}}},
            {"data": {"name": "rpJumps"}, "mark": {"type": "rule", "color": "#9c9c9c", "strokeWidth": 1.5}, "encoding": {"y2": {"field": "s2"}}},
            {"data": {"name": "rp2"}, "mark": {"type": "line", "color": "#8fa2dd", "strokeWidth": 1.4, "interpolate": "monotone"}, "encoding": {}},
            {"data": {"name": "rp1"}, "mark": {"type": "line", "color": "#3b4d9d", "strokeWidth": 1.7, "interpolate": "monotone"}, "encoding": {}},
            {"data": {"name": "rp100"}, "mark": {"type": "line", "color": "#1c1c1c", "strokeWidth": 1.4}, "encoding": {"detail": {"field": "g"}}},
            {"data": {"name": "rpLeaders"}, "mark": {"type": "line", "color": "#1e1e1e", "strokeWidth": 1.5}, "encoding": {"detail": {"field": "g"}, "order": {"field": "o"}}},
            {"data": {"name": "rpHeads"}, "transform": [{"filter": "datum.k == 'au' || datum.k == 'ar'"}], "mark": {"type": "point", "filled": true, "opacity": 1, "color": "#1e1e1e", "size": 225, "strokeWidth": 0},
             "encoding": {"shape": {"field": "k", "scale": {"domain": ["au", "ar", "nd", "nu"], "range": ["M0,-1L0.55,1L0,0.6L-0.55,1Z", "M1,0L-1,0.55L-0.6,0L-1,-0.55Z", "M0,1L-0.7,-1L0,-0.6L0.7,-1Z", "M0,-1L0.7,1L0,0.6L-0.7,1Z"]}, "legend": null}}},
            {"data": {"name": "rpHeads"}, "transform": [{"filter": "datum.k == 'nd' || datum.k == 'nu'"}], "mark": {"type": "point", "filled": true, "opacity": 1, "color": "#1e1e1e", "size": 144, "strokeWidth": 0},
             "encoding": {"shape": {"field": "k", "scale": {"domain": ["au", "ar", "nd", "nu"], "range": ["M0,-1L0.55,1L0,0.6L-0.55,1Z", "M1,0L-1,0.55L-0.6,0L-1,-0.55Z", "M0,1L-0.7,-1L0,-0.6L0.7,-1Z", "M0,-1L0.7,1L0,0.6L-0.7,1Z"]}, "legend": null}}},
            {"data": {"name": "rpText"}, "transform": [{"filter": "datum.k == 'c'"}], "mark": {"type": "text", "align": "center", "baseline": "middle", "fontSize": 22}, "encoding": {"text": {"field": "label"}}},
            {"data": {"name": "rpText"}, "transform": [{"filter": "datum.k == 'r'"}], "mark": {"type": "text", "align": "right", "baseline": "middle", "fontSize": 22}, "encoding": {"text": {"field": "label"}}},
            {"data": {"name": "rpText"}, "transform": [{"filter": "datum.k == 'l'"}], "mark": {"type": "text", "align": "left", "baseline": "middle", "fontSize": 22}, "encoding": {"text": {"field": "label"}}},
            {"data": {"name": "rpText"}, "transform": [{"filter": "datum.k == 'ci'"}], "mark": {"type": "text", "align": "center", "baseline": "middle", "fontSize": 22, "fontStyle": "italic"}, "encoding": {"text": {"field": "label"}}},
            {"data": {"name": "rpText"}, "transform": [{"filter": "datum.k == 'li'"}], "mark": {"type": "text", "align": "left", "baseline": "middle", "fontSize": 22, "fontStyle": "italic"}, "encoding": {"text": {"field": "label"}}}
          ]
        }
      ],
      "spacing": 0,
      "bounds": "flush"
    },
    {
      "width": 1330,
      "height": 90,
      "data": {"name": "captions"},
      "mark": {"type": "text", "align": "left", "baseline": "middle", "font": "DejaVu Serif", "fontSize": 24, "color": "#222222"},
      "encoding": {
        "x": {"field": "x", "type": "quantitative", "scale": {"domain": [0, 1], "nice": false, "zero": false}, "axis": null},
        "y": {"field": "y", "type": "quantitative", "scale": {"domain": [0, 1], "nice": false, "zero": false}, "axis": null},
        "text": {"field": "label"}
      }
    }
  ],
  "spacing": 0,
  "bounds": "full"
}
